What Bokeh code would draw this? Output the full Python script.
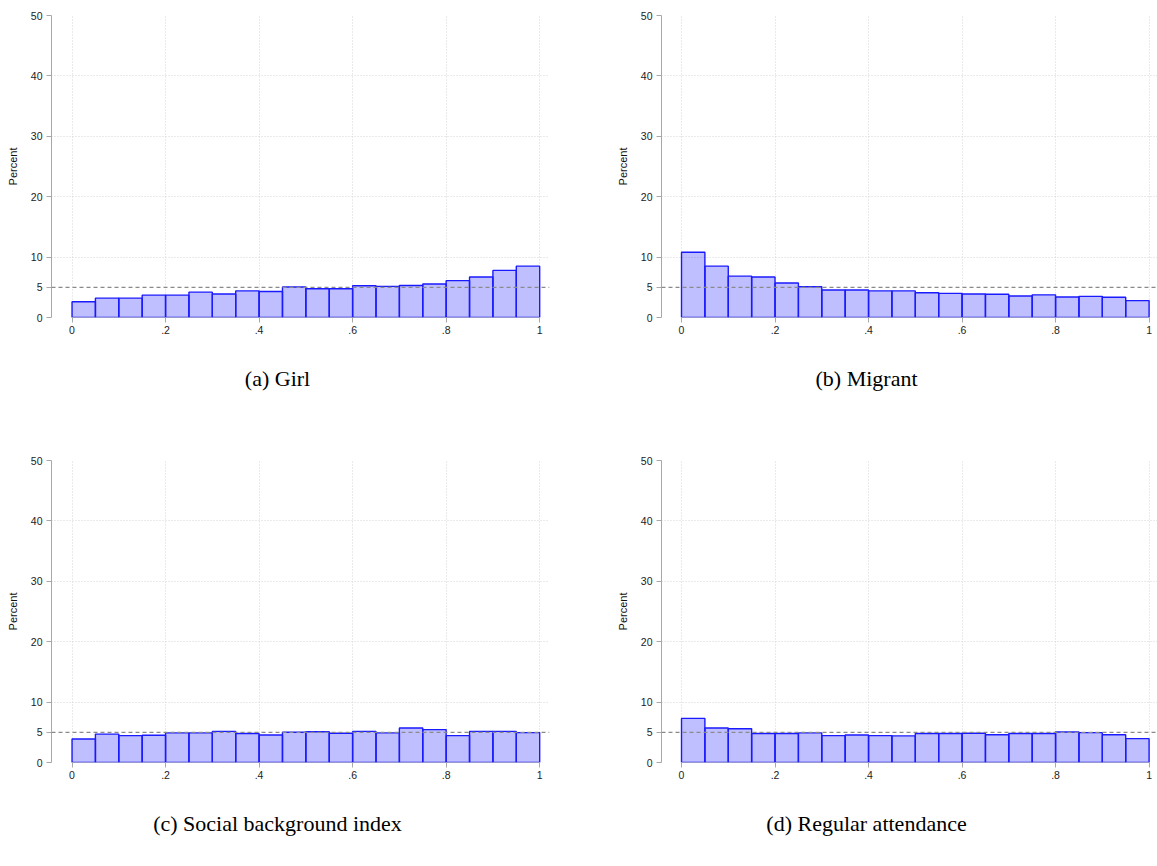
from bokeh.plotting import figure
from bokeh.models import Span, FixedTicker, Range1d
from bokeh.layouts import gridplot
from bokeh.core.properties import value
from bokeh.embed import file_html
from bokeh.resources import INLINE

# 20 equal-width bins over [0, 1]
bin_edges = [round(i * 0.05, 2) for i in range(21)]

girl = [2.6, 3.2, 3.2, 3.7, 3.7, 4.2, 3.9, 4.4, 4.3, 5.05,
        4.75, 4.75, 5.25, 5.15, 5.3, 5.55, 6.1, 6.7, 7.8, 8.5]
migrant = [10.8, 8.5, 6.85, 6.7, 5.7, 5.1, 4.55, 4.55, 4.4, 4.4,
           4.1, 4.0, 3.9, 3.85, 3.55, 3.75, 3.4, 3.5, 3.35, 2.8]
social = [3.9, 4.7, 4.45, 4.5, 4.9, 4.9, 5.15, 4.8, 4.55, 5.0,
          5.1, 4.85, 5.15, 4.9, 5.7, 5.45, 4.45, 5.15, 5.15, 4.95]
attendance = [7.3, 5.7, 5.6, 4.8, 4.8, 4.9, 4.45, 4.55, 4.45, 4.4,
              4.8, 4.8, 4.85, 4.6, 4.8, 4.8, 5.05, 4.95, 4.6, 3.95]

captions = ["(a) Girl", "(b) Migrant", "(c) Social background index", "(d) Regular attendance"]
x_ticks = [0, 0.2, 0.4, 0.6, 0.8, 1]
x_tick_labels = ["0", ".2", ".4", ".6", ".8", "1"]
y_ticks = [0, 5, 10, 20, 30, 40, 50]
y_grid = [0, 10, 20, 30, 40]
ref_line = 5

SANS = "Liberation Sans"
SERIF = "Liberation Serif"


def make_panel(values, width, height, b_left, b_right, b_top, b_bottom, x_start, x_end):
    p = figure(width=width, height=height, output_backend="svg", toolbar_location=None,
               x_range=Range1d(x_start, x_end), y_range=Range1d(0, 50),
               min_border_left=b_left, min_border_right=b_right,
               min_border_top=b_top, min_border_bottom=b_bottom)
    p.outline_line_color = None
    p.background_fill_color = "white"
    p.border_fill_color = "white"

    p.quad(left=bin_edges[:-1], right=bin_edges[1:], bottom=0, top=values,
           fill_color="#0000ff", fill_alpha=0.25, line_color="#1a1aff", line_width=1.4)

    # x axis line spanning only the scale range
    p.line(x=[x_ticks[0], x_ticks[-1]], y=[0, 0], line_color="#a8a8a8", line_width=1)

    p.add_layout(Span(location=ref_line, dimension="width", line_color="#8a8a8a",
                      line_dash="4 3", line_width=1.2))

    ya = p.yaxis[0]
    ya.ticker = FixedTicker(ticks=y_ticks)
    ya.axis_label = "Percent"
    ya.axis_label_text_font = SANS
    ya.axis_label_text_font_style = "normal"
    ya.axis_label_text_font_size = "11px"
    ya.axis_label_text_color = "#111111"
    ya.axis_label_standoff = 9
    ya.major_label_text_font = SANS
    ya.major_label_text_font_size = "10.5px"
    ya.major_label_text_color = "#222222"
    ya.major_label_standoff = 4
    ya.axis_line_color = "#a8a8a8"
    ya.major_tick_line_color = "#a8a8a8"
    ya.major_tick_out = 5
    ya.major_tick_in = 0
    ya.minor_tick_line_color = None

    xa = p.xaxis[0]
    xa.ticker = FixedTicker(ticks=x_ticks)
    xa.major_label_overrides = {t: lab for t, lab in zip(x_ticks, x_tick_labels)}
    xa.major_label_text_font = SANS
    xa.major_label_text_font_size = "10.5px"
    xa.major_label_text_color = "#222222"
    xa.major_label_standoff = 3
    xa.axis_line_color = None
    xa.major_tick_line_color = "#a8a8a8"
    xa.major_tick_out = 5
    xa.major_tick_in = 0
    xa.minor_tick_line_color = None

    p.xgrid.ticker = FixedTicker(ticks=x_ticks)
    p.ygrid.ticker = FixedTicker(ticks=y_grid)
    for g in (p.xgrid[0], p.ygrid[0]):
        g.grid_line_color = "#d4d4d4"
        g.grid_line_dash = "1 2"
        g.grid_line_width = 1
    return p


def make_caption(text, width, height, b_left, b_right, cx, cy_from_top):
    # the grid aligns this frame with the panel frame above it
    fw = width - b_left - b_right
    c = figure(width=width, height=height, output_backend="svg", toolbar_location=None,
               x_range=Range1d(0, fw), y_range=Range1d(height, 0),
               x_axis_location=None, y_axis_location=None,
               min_border=0, min_border_left=b_left, min_border_right=b_right,
               min_border_top=0, min_border_bottom=0)
    c.grid.visible = False
    c.outline_line_color = None
    c.background_fill_color = "white"
    c.border_fill_color = "white"
    c.text(x=[cx - b_left], y=[cy_from_top], text=[text], text_font=value(SERIF),
           text_font_size="22px", text_color="#000000",
           text_align="center", text_baseline="middle")
    return c


pa = make_panel(girl, 578, 350, 51, 29, 15, 33, -0.0439, 1.021)
pb = make_panel(migrant, 579, 350, 83, 0, 15, 33, -0.0428, 1.018)
pc = make_panel(social, 578, 362, 51, 29, 27, 33, -0.0439, 1.021)
pd = make_panel(attendance, 579, 362, 83, 0, 27, 33, -0.0428, 1.018)

ca = make_caption(captions[0], 578, 83, 51, 29, 277, 28)
cb = make_caption(captions[1], 579, 83, 83, 0, 288, 28)
cc = make_caption(captions[2], 578, 71, 51, 29, 277, 28)
cd = make_caption(captions[3], 579, 71, 83, 0, 288, 28)

grid = gridplot([[pa, pb], [ca, cb], [pc, pd], [cc, cd]], toolbar_location=None)

open("out.html", "w").write(file_html(grid, INLINE))
